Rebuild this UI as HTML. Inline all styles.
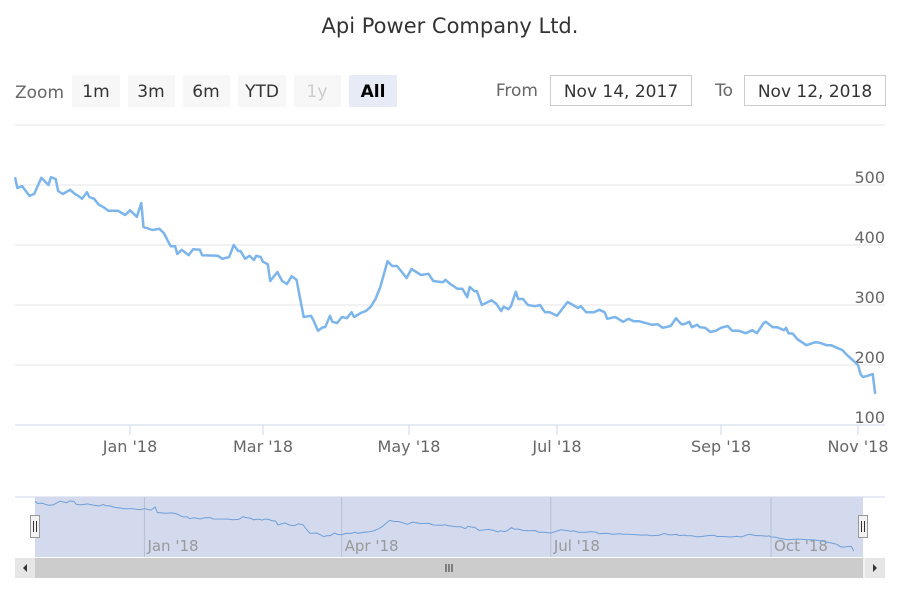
<!DOCTYPE html>
<html><head><meta charset="utf-8"><style>
body{margin:0;background:#fff;font-family:"DejaVu Sans","Liberation Sans",sans-serif;}
svg{display:block}
</style></head><body>
<svg id="chart" width="900" height="600" xmlns="http://www.w3.org/2000/svg">
<rect width="900" height="600" fill="#fff"/>
<text x="450" y="33" text-anchor="middle" font-size="21" fill="#333">Api Power Company Ltd.</text>
<text x="15" y="98" font-size="17" fill="#666">Zoom</text>
<g><rect x="72" y="75" width="48" height="32" fill="#f7f7f7"/><text x="96" y="97" text-anchor="middle" font-size="17" fill="#333">1m</text></g>
<g><rect x="128" y="75" width="47" height="32" fill="#f7f7f7"/><text x="151" y="97" text-anchor="middle" font-size="17" fill="#333">3m</text></g>
<g><rect x="183" y="75" width="47" height="32" fill="#f7f7f7"/><text x="206" y="97" text-anchor="middle" font-size="17" fill="#333">6m</text></g>
<g><rect x="238" y="75" width="48" height="32" fill="#f7f7f7"/><text x="262" y="97" text-anchor="middle" font-size="17" fill="#333">YTD</text></g>
<g><rect x="294" y="75" width="47" height="32" fill="#f7f7f7"/><text x="317" y="97" text-anchor="middle" font-size="17" fill="#ccc">1y</text></g>
<g><rect x="349" y="75" width="48" height="32" fill="#e6ebf5"/><text x="373" y="97" text-anchor="middle" font-size="17" font-weight="bold" fill="#000">All</text></g>
<text x="538" y="96" text-anchor="end" font-size="17" fill="#666">From</text>
<g><rect x="550.5" y="75.5" width="141" height="30" fill="#fff" stroke="#ccc"/><text x="621" y="97" text-anchor="middle" font-size="17" fill="#333">Nov 14, 2017</text></g>
<text x="733" y="96" text-anchor="end" font-size="17" fill="#666">To</text>
<g><rect x="744.5" y="75.5" width="141" height="30" fill="#fff" stroke="#ccc"/><text x="815" y="97" text-anchor="middle" font-size="17" fill="#333">Nov 12, 2018</text></g>
<g id="grid"></g><g id="xaxis"></g><g id="series"></g><g id="nav"></g>
</svg>
<script>
const days=[0,1,3,6,8,11,14,15,17,18,20,23,25,26,28,30,31,33,35,37,39,43,46,48,51,53,54,58,61,63,66,68,69,71,74,76,79,80,87,89,92,94,96,97,99,101,103,104,106,107,109,110,113,115,117,119,121,124,127,128,130,132,133,135,136,138,140,142,144,145,148,150,152,154,156,159,161,163,167,169,173,176,178,182,183,185,188,190,192,193,195,196,198,202,204,206,207,209,210,212,213,215,217,220,222,224,226,229,233,237,238,240,243,245,247,248,251,254,256,258,260,265,267,269,272,274,276,277,279,280,282,283,285,287,289,291,294,296,299,302,305,307,310,311,314,316,319,320,321,323,325,329,333,335,338,340,343,345,347,350,352,353,354,356,358,359,360,363];
const prices=[513,495,498,482,485,512,500,513,510,490,485,492,485,483,477,488,480,477,467,463,457,457,450,458,447,470,430,425,427,420,398,398,385,392,383,393,392,383,382,377,380,400,390,390,377,382,375,382,380,372,368,340,355,340,335,348,342,280,282,275,257,263,263,282,272,270,280,278,288,280,287,290,297,310,330,373,365,365,345,360,350,352,340,338,342,335,327,327,313,330,323,323,300,308,302,290,297,293,298,322,310,310,300,298,300,288,288,282,305,295,298,288,288,292,288,277,280,272,277,273,273,267,268,262,265,278,268,268,272,263,267,263,262,255,257,262,265,257,257,253,258,253,270,272,263,263,258,262,253,252,243,233,238,237,233,233,228,225,217,207,200,185,180,182,185,152];
const yTicks=[100,200,300,400,500,600];
const xTickLabels=["Jan '18","Mar '18","May '18","Jul '18","Sep '18","Nov '18"];
const xTickDays=[48,107,168,229,291,352];
const navTickLabels=["Jan '18","Apr '18","Jul '18","Oct '18"];
const navTickDays=[48,138,229,321];
const NS='http://www.w3.org/2000/svg';
function mk(tag,attrs,parent,txt){const e=document.createElementNS(NS,tag);for(const k in attrs)e.setAttribute(k,attrs[k]);if(txt!==undefined)e.textContent=txt;parent.appendChild(e);return e;}
const aD=[0,48,107,168,229,291,352,363],aX=[15,130,263,409,557,721,858,885];
function xS(d){for(let i=0;i<aD.length-1;i++){if(d<=aD[i+1]||i==aD.length-2){return aX[i]+(d-aD[i])/(aD[i+1]-aD[i])*(aX[i+1]-aX[i]);}}}
function yS(v){return 425-(v-100)*0.6;}
const nx0=35,nx1=863;
function nxS(d){return nx0+(xS(d)-15)/870*(nx1-nx0);}
const pmin=Math.min(...prices),pmax=Math.max(...prices);
function nyS(v){return 551-(v-pmin)/(pmax-pmin)*50;}
const grid=document.getElementById('grid');
yTicks.forEach(t=>{const y=yS(t);
 const l=mk('line',{x1:15,x2:885,y1:y,y2:y,stroke:t===100?'#ccd6eb':'#e6e6e6','stroke-width':1},grid);
 
 
 if(t<600){const tx=mk('text',{x:885,y:y-2,'text-anchor':'end','font-size':16,fill:'#666'},grid,String(t));
 
 }
});
const xa=document.getElementById('xaxis');
xTickDays.forEach((d,i)=>{const x=xS(d);
 const tk=mk('line',{x1:x,x2:x,y1:425,y2:435,stroke:'#ccd6eb'},xa);
 
 
 const tx=mk('text',{x:x,y:452,'text-anchor':'middle','font-size':16,fill:'#666'},xa,xTickLabels[i]);
 
 
});
const s=document.getElementById('series');
const p=mk('path',{d:days.map((d,i)=>(i?'L':'M')+xS(d).toFixed(1)+','+yS(prices[i]).toFixed(1)).join(''),fill:'none',stroke:'#7cb5ec','stroke-width':2.5,'stroke-linejoin':'round'},s);


const nav=document.getElementById('nav');
const nl=mk('line',{x1:15,x2:885,y1:497,y2:497,stroke:'#ccd6eb'},nav);


const mask=mk('rect',{x:nx0,y:497,width:nx1-nx0,height:60,fill:'#d3daee'},nav);


navTickDays.forEach((d,i)=>{const x=nxS(d);
 const l=mk('line',{x1:x,x2:x,y1:497,y2:557,stroke:'#b8c0d4'},nav);
 
 
 const t=mk('text',{x:x+3,y:551,'font-size':15,fill:'#999'},nav,navTickLabels[i]);
 
 
});
const np=mk('path',{d:days.map((d,i)=>(i?'L':'M')+nxS(d).toFixed(1)+','+nyS(prices[i]).toFixed(1)).join(''),fill:'none',stroke:'#6f9fd8','stroke-width':1},nav);


[nx0,nx1].forEach((x,i)=>{const g=mk('g',{},nav);
 
 
 mk('rect',{x:x-4.5,y:515.5,width:9,height:22,fill:'#f2f2f2',stroke:'#999'},g);
 mk('line',{x1:x-1.5,x2:x-1.5,y1:521,y2:532,stroke:'#333'},g);
 mk('line',{x1:x+1.5,x2:x+1.5,y1:521,y2:532,stroke:'#333'},g);
});
const sb=mk('g',{},nav);


mk('rect',{x:15,y:558,width:870,height:20,fill:'#f2f2f2'},sb);
mk('rect',{x:nx0,y:558,width:nx1-nx0,height:20,fill:'#cccccc'},sb);
mk('rect',{x:15,y:558,width:20,height:20,fill:'#e6e6e6'},sb);
mk('rect',{x:865,y:558,width:20,height:20,fill:'#e6e6e6'},sb);
mk('path',{d:'M27,564L23,568L27,572Z',fill:'#333'},sb);
mk('path',{d:'M873,564L877,568L873,572Z',fill:'#333'},sb);
[-3,0,3].forEach(o=>mk('line',{x1:449+o,x2:449+o,y1:564,y2:572,stroke:'#333'},sb));
</script>
</body></html>
